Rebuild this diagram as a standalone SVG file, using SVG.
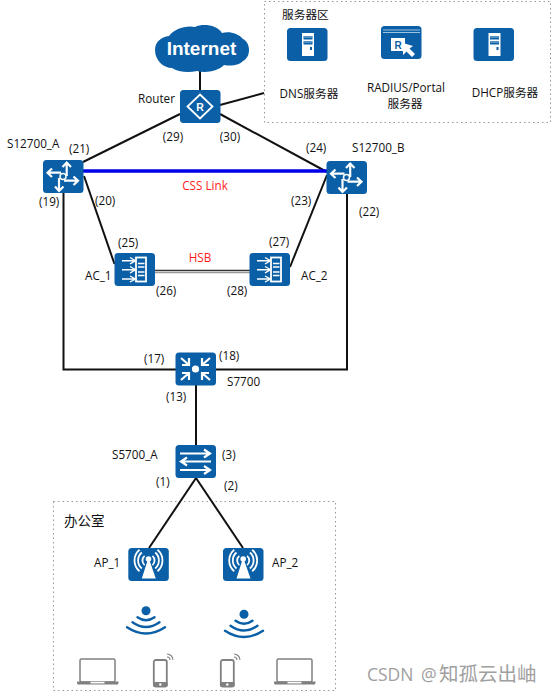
<svg xmlns="http://www.w3.org/2000/svg" width="552" height="693" viewBox="0 0 552 693">
<style>
text{font-family:"Open Sans","Noto Sans","Noto Sans CJK SC",sans-serif;font-size:11.700px;fill:#111}
.r{fill:#ff1a1a}
.m{text-anchor:middle}
.box{fill:none;stroke:#999;stroke-width:1;stroke-dasharray:1.500 3}
.lk{fill:none;stroke:#111;stroke-width:2}
.tile{fill:#0a5fa6}
.w{fill:none;stroke:#fff}
.wf{fill:#fff}
.arc{fill:none;stroke:#0a5fa6;stroke-width:2.400;stroke-linecap:round}
.g{fill:#808080}
.gs{fill:#fff;stroke:#808080;stroke-width:1.500}
.wm{fill:#a0a0a0}
</style>
<defs>
<rect id="tile" class="tile" width="40.500" height="33" rx="3.500"/>
<g id="core">
<use href="#tile"/>
<path class="w" stroke-width="2.200" d="M23.700 3V16M19.500 7L23.700 2.500L28 7M5 12.700H18M9 8.500L4.500 12.700L9 17M21 20.700H34.500M30.500 16.500L35 20.700L30.500 25M16 18V30.500M12 26.500L16 31L20.500 26.500"/>
<circle cx="20" cy="16.500" r="3" fill="#0a5fa6" stroke="#fff" stroke-width="1.500"/>
</g>
<g id="ac">
<use href="#tile"/>
<rect x="21.500" y="4.500" width="10" height="24" fill="none" stroke="#fff" stroke-width="1.800"/>
<path class="w" stroke-width="1.400" d="M7.500 7.700H21M7.500 16.700H21M7.500 26H21M15.500 4.500L21 7.700L15.500 11M15.500 13.500L21 16.700L15.500 20M15.500 23L21 26L15.500 29M23.500 10.500H30M23.500 14H30M23.500 19H30M23.500 22.500H30"/>
</g>
<g id="srv">
<use href="#tile"/>
<path class="wf" d="M15 5H27V28H15Z"/>
<rect x="16.500" y="8" width="9" height="3.500" fill="#0a5fa6"/>
<rect x="16.500" y="13" width="9" height="3.500" fill="#0a5fa6"/>
<rect x="23" y="19" width="2" height="3" fill="#0a5fa6"/>
<path d="M16.500 9H25.500M16.500 14H25.500" stroke="#9cc3e2" stroke-width="1"/>
</g>
<g id="ap">
<use href="#tile"/>
<path class="wf" d="M20.200 9.500L27.500 30.500H13.500Z"/>
<circle cx="20.200" cy="11" r="2.800" class="wf"/>
<path class="w" stroke-width="1.800" d="M16.300 7.900A6 6 0 0 0 16.300 17.100M13.500 4.500A10.500 10.500 0 0 0 13.500 20.500M11.200 1.800A14 14 0 0 0 11.200 23.200M24.100 7.900A6 6 0 0 1 24.100 17.100M26.900 4.500A10.500 10.500 0 0 1 26.900 20.500M29.200 1.800A14 14 0 0 1 29.200 23.200"/>
</g>
<g id="wifi">
<circle cx="0" cy="0" r="4.500" fill="#0a5fa6"/>
<path class="arc" d="M-8.500 6.500Q0 12.500 8.500 6.500M-13.500 11.500Q0 21 13.500 11.500M-19 16.500Q0 29 19 16.500"/>
</g>
<g id="laptop">
<rect x="3" y="1" width="35" height="23" rx="1.500" class="gs"/>
<path class="g" d="M0 23.500H41.500V25A2 2 0 0 1 39 26.500H2.500A2 2 0 0 1 0 25Z"/>
<rect x="13.500" y="23.800" width="14" height="1.600" fill="#fff"/>
</g>
<g id="phone">
<rect x="0.800" y="1" width="13" height="26.500" rx="2" fill="#fff" stroke="#808080" stroke-width="1.800"/>
<rect x="0" y="23" width="14.600" height="5" rx="1.500" class="g"/>
<circle cx="7.300" cy="25.500" r="1.200" fill="#fff"/>
</g>
<path id="sig" d="M0 3A3 3 0 0 1 3 6M0 0A6 6 0 0 1 6 6" fill="none" stroke="#808080" stroke-width="1.100"/>
</defs>
<rect width="552" height="693" fill="#fff"/>
<rect class="box" x="264.500" y="1.500" width="286" height="121"/>
<rect class="box" x="53.500" y="501.500" width="282" height="189"/>
<g id="connectors">
<path class="lk" d="M200 70V90"/>
<path class="lk" d="M220 105L264 93"/>
<path class="lk" d="M180 114L83 162"/>
<path class="lk" d="M220 114L327 172"/>
<path d="M83 171H327" fill="none" stroke="#0000e6" stroke-width="3.500"/>
<path class="lk" d="M84 176L114.500 264"/>
<path class="lk" d="M327 175L290 267"/>
<path d="M155 270.500H250" stroke="#333" stroke-width="1.300" fill="none"/>
<path d="M155 272.700H250" stroke="#999" stroke-width="1.300" fill="none"/>
<path class="lk" d="M63.500 192V369.500H176"/>
<path class="lk" d="M347 193V369.500H215"/>
<path class="lk" d="M196 385V445"/>
<path class="lk" d="M196 478L149 548"/>
<path class="lk" d="M196 478L243 548"/>
</g>
<g id="internet">
<path fill="#0a5fa6" d="M172 68C163 68 155 60 155 50C155 42 161 37 169 36C174 29 186 25 195 27C203 23 217 25 222 33C229 31 238 33 243 39C251 43 251 57 243 61C238 66 230 66 224 65C217 72 205 73 197 71C188 73 178 72 172 68Z"/>
<text x="201.500" y="54.500" class="m" style="font-size:19px;font-weight:700;fill:#fff;font-family:'Liberation Sans',sans-serif">Internet</text>
</g>
<g id="router">
<use href="#tile" x="180" y="90"/>
<path class="w" d="M200 94.500L212.500 106.500L200 118.500L187.500 106.500Z" stroke-width="1.800"/>
<text x="200" y="110.500" class="m" style="font-size:10.500px;font-weight:700;fill:#fff;font-family:'Liberation Sans',sans-serif">R</text>
<text x="138" y="103">Router</text>
<text x="173" y="141" class="m">(29)</text>
<text x="230" y="141" class="m">(30)</text>
</g>
<g id="dns">
<use href="#srv" x="287" y="28"/>
<text x="309" y="98" class="m">DNS服务器</text>
</g>
<g id="radius">
<use href="#tile" x="381" y="26"/>
<path d="M383 30H420M383 32.500H420" stroke="#9cc3e2" stroke-width="1"/>
<rect x="391" y="38" width="14" height="13" fill="#fff"/>
<text x="398" y="49" class="m" style="font-size:10px;font-weight:700;fill:#0a5fa6;font-family:'Liberation Sans',sans-serif">R</text>
<path class="wf" d="M403 43L403 55L406.500 51.500L412 57L415 54L409.500 48.500L413 46Z"/>
<text x="406" y="92" class="m">RADIUS/Portal</text>
<text x="405" y="108" class="m">服务器</text>
</g>
<g id="dhcp">
<use href="#srv" x="473.500" y="28"/>
<text x="505" y="97" class="m">DHCP服务器</text>
</g>
<text x="282" y="19">服务器区</text>
<g id="s12700a">
<use href="#core" x="43" y="160"/>
<text x="7" y="148">S12700_A</text>
<text x="69" y="153">(21)</text>
<text x="39" y="206">(19)</text>
<text x="95" y="205">(20)</text>
</g>
<g id="s12700b">
<use href="#core" x="326.500" y="161"/>
<text x="352" y="152">S12700_B</text>
<text x="306" y="152">(24)</text>
<text x="291" y="205">(23)</text>
<text x="359" y="216">(22)</text>
</g>
<text x="205" y="190" class="r m">CSS Link</text>
<text x="200" y="262" class="r m">HSB</text>
<g id="ac1">
<use href="#ac" x="114.500" y="253"/>
<text x="85" y="280">AC_1</text>
<text x="118" y="247">(25)</text>
<text x="156" y="295">(26)</text>
</g>
<g id="ac2">
<use href="#ac" x="249.500" y="253"/>
<text x="301" y="280">AC_2</text>
<text x="269" y="246">(27)</text>
<text x="227" y="295">(28)</text>
</g>
<g id="s7700">
<use href="#tile" x="175.500" y="352.500"/>
<circle cx="195.500" cy="369" r="3.600" class="wf"/>
<path class="w" d="M181 358L189 365M189 358V365H182M210 358L202 365M202 358V365H209M181 380L189 373M189 380V373H182M210 380L202 373M202 380V373H209" stroke-width="2.200"/>
<text x="144" y="363">(17)</text>
<text x="219" y="360">(18)</text>
<text x="227" y="386">S7700</text>
<text x="166" y="401">(13)</text>
</g>
<g id="s5700a">
<use href="#tile" x="175.500" y="445"/>
<path class="w" d="M180 453.500H209M204 449.500L210 453.500L204 457.500M211 461.500H182M187 457.500L181 461.500L187 465.500M180 470H209M204 466L210 470L204 474" stroke-width="2.200"/>
<text x="112" y="459">S5700_A</text>
<text x="222" y="459">(3)</text>
<text x="156" y="486">(1)</text>
<text x="224" y="490">(2)</text>
</g>
<text x="64" y="526" style="font-size:13.500px">办公室</text>
<g id="ap1">
<use href="#ap" x="128.300" y="548"/>
<text x="94" y="567">AP_1</text>
</g>
<g id="ap2">
<use href="#ap" x="223" y="548"/>
<text x="272" y="567">AP_2</text>
</g>
<use href="#wifi" x="146" y="610.700"/>
<use href="#wifi" x="244" y="614.300"/>
<use href="#laptop" x="77" y="658"/>
<use href="#laptop" x="274" y="658"/>
<use href="#phone" x="153" y="659"/>
<use href="#sig" x="167" y="654"/>
<use href="#phone" x="220" y="659"/>
<use href="#sig" x="234" y="654"/>
<text x="367" y="681" class="wm" style="font-size:17.500px">CSDN<tspan x="421" class="wm" style="font-size:17.500px">@</tspan><tspan x="439" class="wm" style="font-size:19.500px">知孤云出岫</tspan></text>
</svg>
